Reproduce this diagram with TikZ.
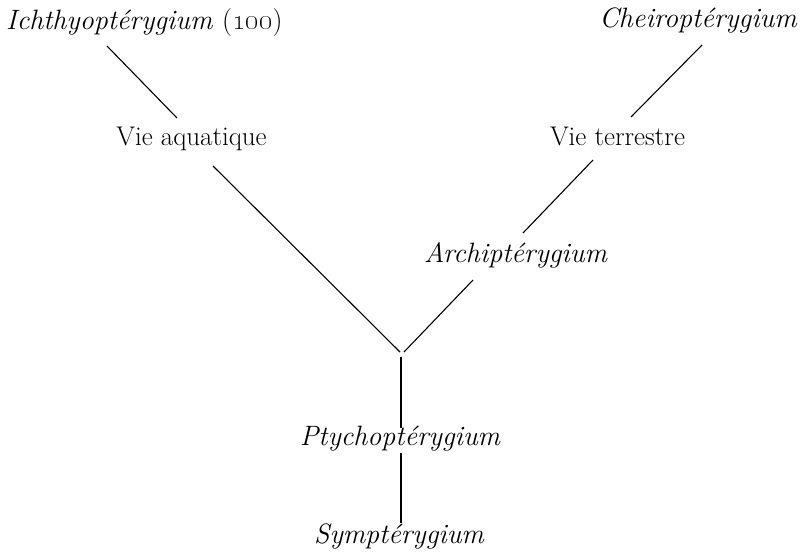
\documentclass[tikz,border=0pt]{standalone}
\begin{document}
\begin{tikzpicture}[x=1pt,y=-1pt,
  lbl/.style={inner sep=0pt,font=\fontsize{27}{32}\selectfont},
  ilbl/.style={inner sep=0pt,font=\fontsize{28}{33}\selectfont\itshape},
  branch/.style={line width=1.1pt,black}]
\useasboundingbox (0,0) rectangle (802,551);
% labels
\node[ilbl,anchor=base west] (ich) at (6,30) {Ichthyoptérygium \upshape(\oldstylenums{100})};
\node[ilbl,anchor=base east] (che) at (797,28) {Cheiroptérygium};
\node[lbl,anchor=base] (va) at (191.5,145) {Vie aquatique};
\node[lbl,anchor=base] (vt) at (617.5,145) {Vie terrestre};
\node[ilbl,anchor=base] (arch) at (515.5,262) {Archiptérygium};
\node[ilbl,anchor=base] (pty) at (400,445) {Ptychoptérygium};
\node[ilbl,anchor=base] (sym) at (399,543) {Symptérygium};
% connector ends
\coordinate (ichE) at (107,46);
\coordinate (vaN) at (177,118);
\coordinate (cheE) at (702,45);
\coordinate (vtN) at (631,117);
\coordinate (vaS) at (213,166);
\coordinate (vtS) at (593,160);
\coordinate (archN) at (523,233);
\coordinate (archS) at (473,280);
\coordinate (fork) at (400,352);
\coordinate (forkR) at (404,352);
\coordinate (forkB) at (401,357);
\coordinate (ptyN) at (401,428);
\coordinate (ptyS) at (401,453);
\coordinate (symN) at (401,523);
% connectors
\draw[branch] (ichE) -- (vaN);
\draw[branch] (cheE) -- (vtN);
\draw[branch] (vaS) -- (fork);
\draw[branch] (vtS) -- (archN);
\draw[branch] (archS) -- (forkR);
\draw[branch] (forkB) -- (ptyN);
\draw[branch] (ptyS) -- (symN);
\end{tikzpicture}
\end{document}
